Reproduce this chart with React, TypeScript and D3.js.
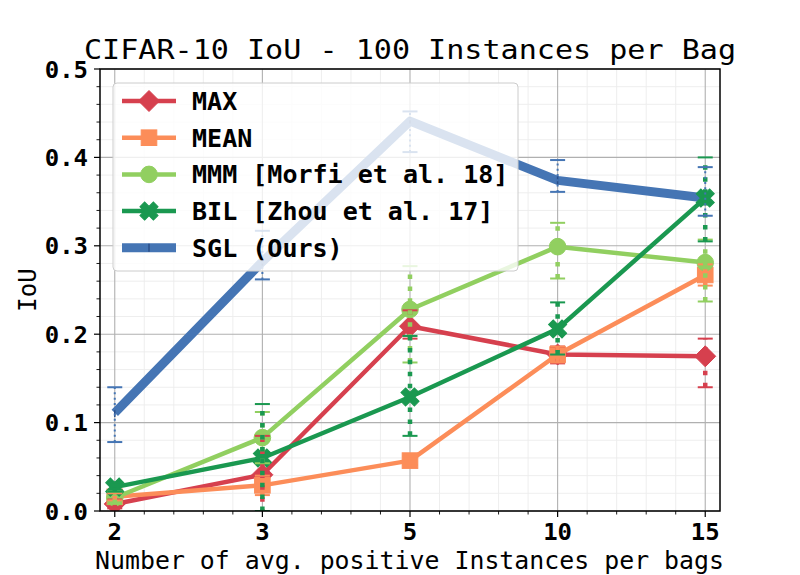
import React from "react";
import * as d3 from "d3";

const categories = ["2", "3", "5", "10", "15"];
const yTicks = [0, 0.1, 0.2, 0.3, 0.4, 0.5];

const maxVals = [0.008, 0.041, 0.209, 0.177, 0.175];
const maxLo = [0.003, -0.003, 0.195, 0.167, 0.14];
const maxHi = [0.013, 0.085, 0.227, 0.186, 0.195];

const meanVals = [0.016, 0.029, 0.057, 0.177, 0.267];
const meanLo = [0.012, 0.018, 0.052, 0.168, 0.255];
const meanHi = [0.02, 0.04, 0.062, 0.186, 0.279];

const mmmVals = [0.015, 0.083, 0.228, 0.299, 0.281];
const mmmLo = [0.008, 0.054, 0.168, 0.263, 0.237];
const mmmHi = [0.022, 0.112, 0.277, 0.326, 0.307];

const bilVals = [0.027, 0.06, 0.129, 0.206, 0.354];
const bilLo = [0.022, 0.0, 0.085, 0.177, 0.305];
const bilHi = [0.032, 0.121, 0.198, 0.236, 0.4];

const sglVals = [0.111, 0.282, 0.441, 0.374, 0.354];
const sglLo = [0.078, 0.262, 0.406, 0.361, 0.334];
const sglHi = [0.14, 0.317, 0.452, 0.397, 0.389];

type Series = {
  name: string;
  color: string;
  marker: string;
  vals: number[];
  lo: number[];
  hi: number[];
  lw: number;
  elw: number;
};

const series: Series[] = [
  { name: "MAX", color: "#d6404e", marker: "D", vals: maxVals, lo: maxLo, hi: maxHi, lw: 4.5, elw: 4.5 },
  { name: "MEAN", color: "#fc8d59", marker: "s", vals: meanVals, lo: meanLo, hi: meanHi, lw: 4.5, elw: 4.5 },
  { name: "MMM [Morfi et al. 18]", color: "#91cf60", marker: "o", vals: mmmVals, lo: mmmLo, hi: mmmHi, lw: 4.5, elw: 4.5 },
  { name: "BIL [Zhou et al. 17]", color: "#1a9850", marker: "X", vals: bilVals, lo: bilLo, hi: bilHi, lw: 4.5, elw: 4.5 },
  { name: "SGL (Ours)", color: "#4575b4", marker: "+", vals: sglVals, lo: sglLo, hi: sglHi, lw: 9, elw: 2 },
];

const drawOrder = [4, 0, 1, 2, 3];

const FONT = "'DejaVu Sans Mono', monospace";
const SX = 1.043;

const W = 800;
const H = 575;
const L = 100, R = 720, T = 69, B = 511;

function Marker({ kind, x, y, color }: { kind: string; x: number; y: number; color: string }) {
  if (kind === "D") {
    const r = 10.5;
    return <path d={`M${x},${y - r}L${x + r},${y}L${x},${y + r}L${x - r},${y}Z`} fill={color} stroke={color} strokeWidth={1} />;
  }
  if (kind === "s") {
    const h = 7.8;
    return <rect x={x - h} y={y - h} width={2 * h} height={2 * h} fill={color} stroke={color} strokeWidth={1} />;
  }
  if (kind === "o") {
    return <circle cx={x} cy={y} r={8.3} fill={color} stroke={color} strokeWidth={1} />;
  }
  if (kind === "X") {
    const a = 9.5, w = 3.3;
    const pts = [
      [w, a], [w, w], [a, w], [a, -w], [w, -w], [w, -a],
      [-w, -a], [-w, -w], [-a, -w], [-a, w], [-w, w], [-w, a],
    ];
    const d = "M" + pts.map((p) => `${p[0]},${p[1]}`).join("L") + "Z";
    return <path d={d} transform={`translate(${x},${y}) rotate(45)`} fill={color} stroke={color} strokeWidth={1} />;
  }
  // '+' small
  return (
    <g stroke="#2b4f8a" strokeWidth={1.5}>
      <line x1={x} x2={x} y1={y - 4} y2={y + 4} />
    </g>
  );
}

function Txt(props: {
  x: number; y: number; children: React.ReactNode; size: number; weight?: string;
  anchor?: string; sx?: number; rotate?: number;
}) {
  const { x, y, size, weight = "normal", anchor = "start", sx = SX, rotate = 0 } = props;
  return (
    <text
      transform={`translate(${x},${y}) rotate(${rotate}) scale(${sx},1)`}
      fontFamily={FONT}
      fontSize={size}
      fontWeight={weight}
      textAnchor={anchor}
      fill="#000"
    >
      {props.children}
    </text>
  );
}

export default function App() {
  const x = d3.scaleLinear().domain([-0.1, 4.1]).range([L, R]);
  const y = d3.scaleLinear().domain([0, 0.5]).range([B, T]);
  const line = d3
    .line<number>()
    .x((_, i) => x(i))
    .y((d) => y(d));

  const xMinor = d3.range(0, 21).map((k) => k * 0.2).filter((v) => v <= 4.1 && Math.abs(v - Math.round(v)) > 1e-6);
  const yMinor = d3.range(0, 26).map((k) => k * 0.02).filter((v) => Math.abs(v * 10 - Math.round(v * 10)) > 1e-6);

  const legX = 113, legY = 83, legW = 405, legH = 188;
  const rowY = (i: number) => 101 + i * 36.7;

  return (
    <svg width={W} height={H} style={{ position: "absolute", left: 0, top: 0 }}>
      <defs>
        <clipPath id="plot">
          <rect x={L} y={T} width={R - L} height={B - T} />
        </clipPath>
      </defs>
      <rect x={0} y={0} width={W} height={H} fill="#fff" />

      {/* minor grid */}
      <g stroke="#ececec" strokeWidth={0.9}>
        {xMinor.map((v) => (
          <line key={"xm" + v} x1={x(v)} x2={x(v)} y1={T} y2={B} />
        ))}
        {yMinor.map((v) => (
          <line key={"ym" + v} x1={L} x2={R} y1={y(v)} y2={y(v)} />
        ))}
      </g>
      {/* major grid */}
      <g stroke="#b0b0b0" strokeWidth={1.1}>
        {categories.map((c, i) => (
          <line key={"xg" + c} x1={x(i)} x2={x(i)} y1={T} y2={B} />
        ))}
        {yTicks.map((v) => (
          <line key={"yg" + v} x1={L} x2={R} y1={y(v)} y2={y(v)} />
        ))}
      </g>

      <g clipPath="url(#plot)">
        {drawOrder.map((si) => {
          const s = series[si];
          return (
            <g key={s.name}>
              <path d={line(s.vals) || ""} fill="none" stroke={s.color} strokeWidth={s.lw} strokeLinejoin="round" />
              {s.vals.map((v, i) => (
                <Marker key={i} kind={s.marker} x={x(i)} y={y(v)} color={s.color} />
              ))}
            </g>
          );
        })}
        {series.map((s) => (
          <g key={"e" + s.name} stroke={s.color}>
            {s.vals.map((v, i) => (
              <g key={i}>
                <line
                  x1={x(i)}
                  x2={x(i)}
                  y1={y(s.lo[i])}
                  y2={y(s.hi[i])}
                  strokeWidth={s.elw}
                  strokeDasharray={`${s.elw},${s.elw * 1.65}`}
                />
                <line x1={x(i) - 7.5} x2={x(i) + 7.5} y1={y(s.lo[i])} y2={y(s.lo[i])} strokeWidth={2} />
                <line x1={x(i) - 7.5} x2={x(i) + 7.5} y1={y(s.hi[i])} y2={y(s.hi[i])} strokeWidth={2} />
              </g>
            ))}
          </g>
        ))}
      </g>

      {/* spines */}
      <rect x={L} y={T} width={R - L} height={B - T} fill="none" stroke="#000" strokeWidth={1.5} />

      {/* ticks */}
      <g stroke="#000">
        {categories.map((c, i) => (
          <line key={"xt" + c} x1={x(i)} x2={x(i)} y1={B} y2={B + 6} strokeWidth={1.2} />
        ))}
        {xMinor.map((v) => (
          <line key={"xmt" + v} x1={x(v)} x2={x(v)} y1={B} y2={B + 3.5} strokeWidth={0.9} />
        ))}
        {yTicks.map((v) => (
          <line key={"yt" + v} x1={L - 6} x2={L} y1={y(v)} y2={y(v)} strokeWidth={1.2} />
        ))}
        {yMinor.map((v) => (
          <line key={"ymt" + v} x1={L - 3.5} x2={L} y1={y(v)} y2={y(v)} strokeWidth={0.9} />
        ))}
      </g>
      {categories.map((c, i) => (
        <Txt key={"xl" + c} x={x(i)} y={540} size={23} weight="bold" anchor="middle">
          {c}
        </Txt>
      ))}
      {yTicks.map((v) => (
        <Txt key={"yl" + v} x={88} y={y(v) + 8.5} size={23} weight="bold" anchor="end">
          {v.toFixed(1)}
        </Txt>
      ))}

      {/* labels */}
      <text
        x={410}
        y={59}
        fontFamily={FONT}
        fontSize={27}
        textAnchor="middle"
        textLength={652}
        lengthAdjust="spacingAndGlyphs"
      >
        CIFAR-10 IoU - 100 Instances per Bag
      </text>
      <text
        x={409.5}
        y={569}
        fontFamily={FONT}
        fontSize={24}
        textAnchor="middle"
        textLength={629}
        lengthAdjust="spacingAndGlyphs"
      >
        Number of avg. positive Instances per bags
      </text>
      <Txt x={36} y={290} size={24} anchor="middle" rotate={-90} sx={1}>
        IoU
      </Txt>

      {/* legend */}
      <rect x={legX} y={legY} width={legW} height={legH} rx={4} fill="#fff" fillOpacity={0.8} stroke="#cccccc" strokeWidth={1} />
      {series.map((s, i) => (
        <g key={"lg" + s.name}>
          <line x1={122} x2={176} y1={rowY(i)} y2={rowY(i)} stroke={s.color} strokeWidth={s.lw} />
          <Marker kind={s.marker} x={149} y={rowY(i)} color={s.color} />
          <Txt x={192} y={rowY(i) + 9} size={24} weight="bold">
            {s.name}
          </Txt>
        </g>
      ))}
    </svg>
  );
}
